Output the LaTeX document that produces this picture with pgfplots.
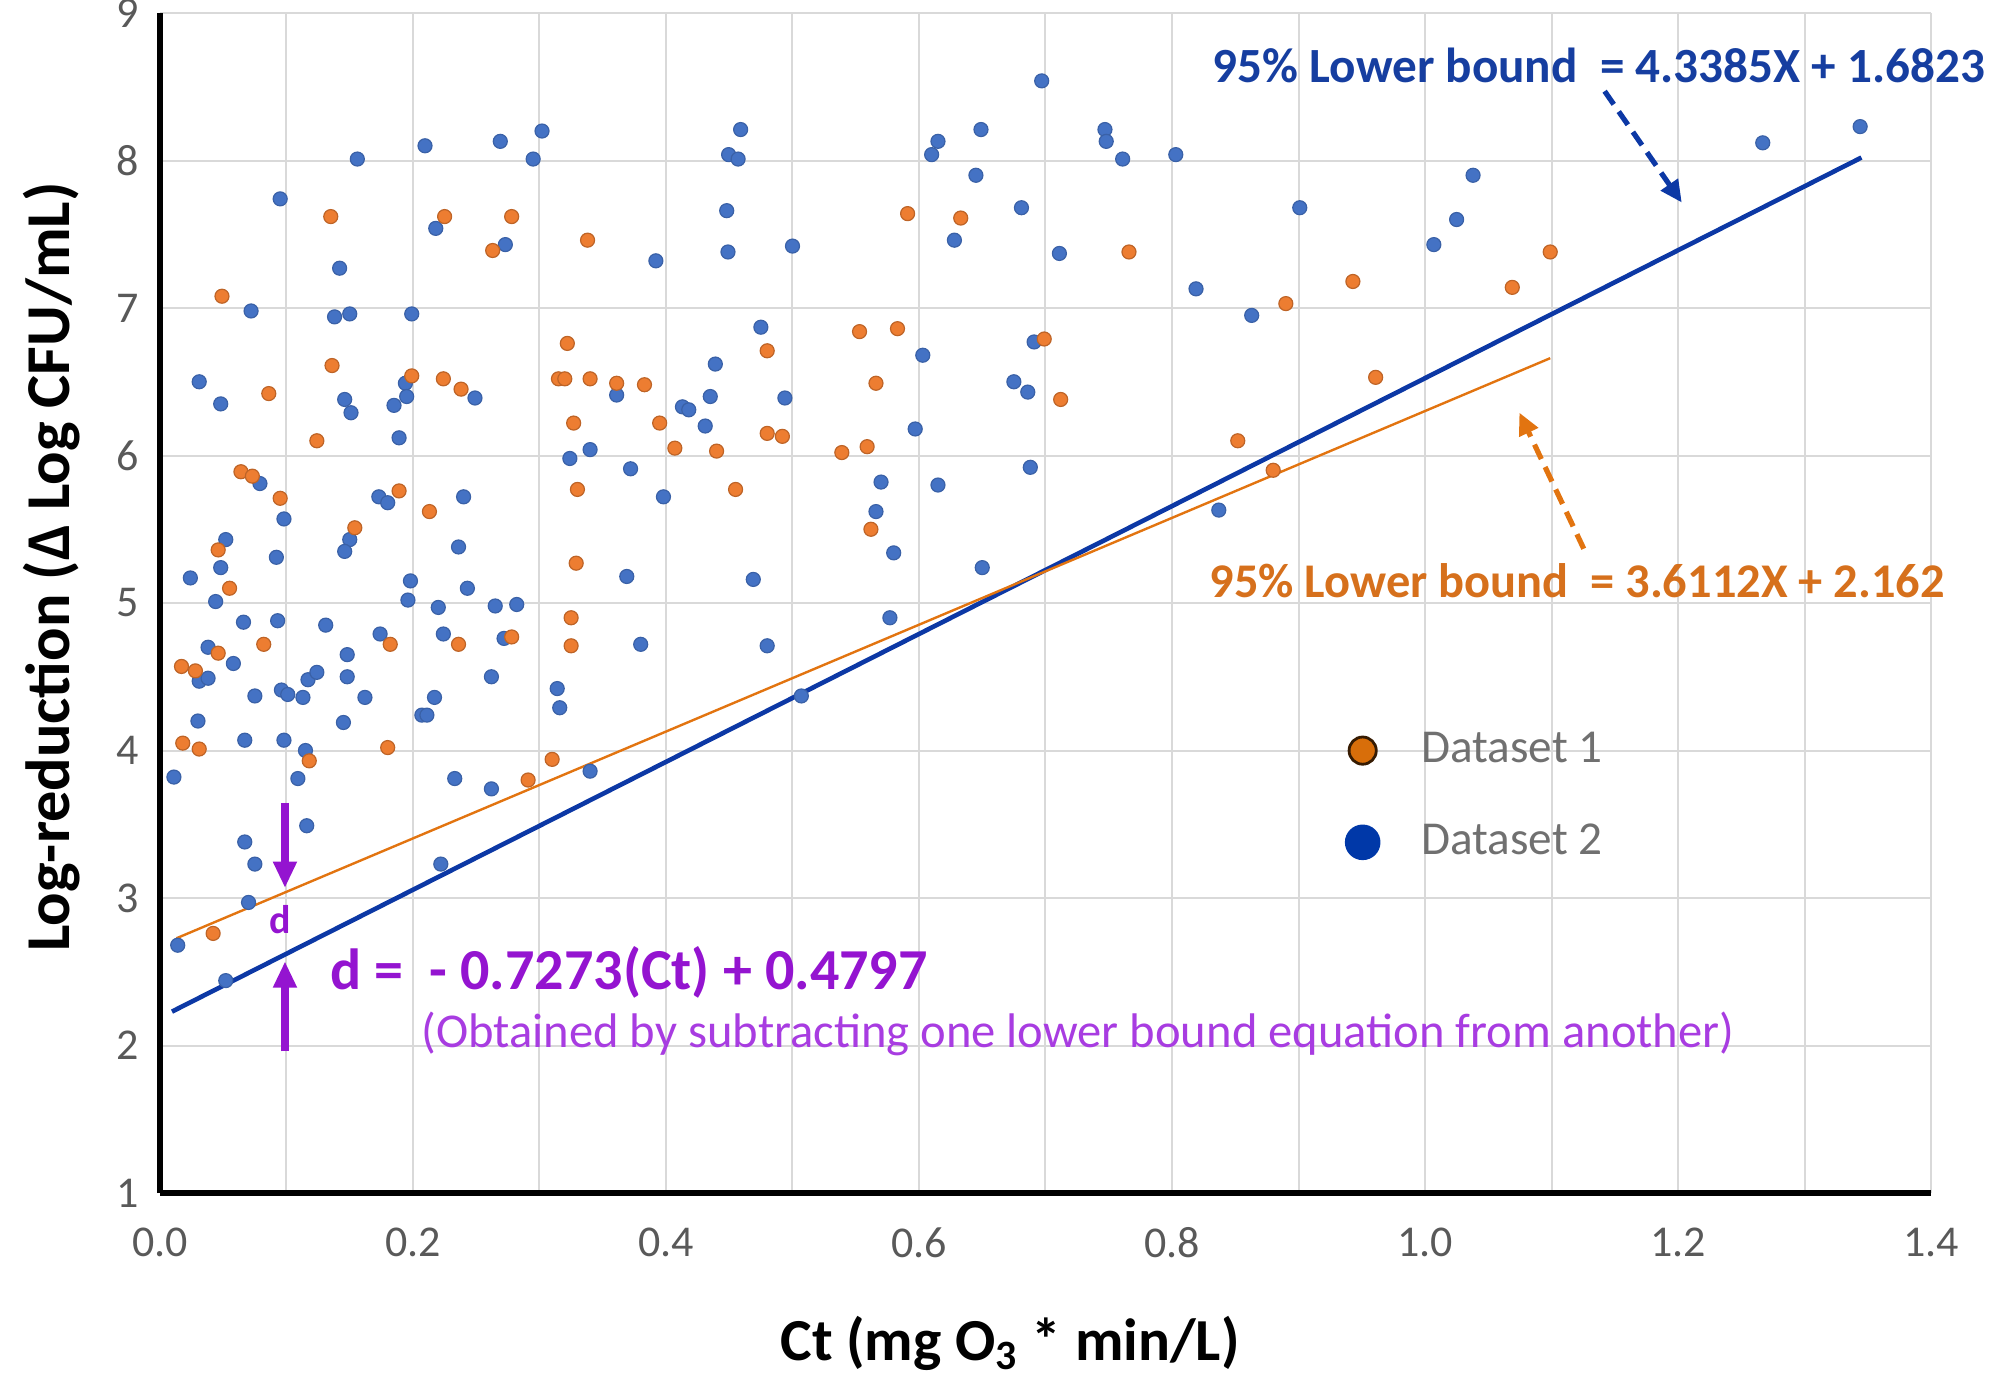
\documentclass[border=0pt]{standalone}
\usepackage{pgfplots}
\pgfplotsset{compat=1.18}
\usepackage{fontspec}
\setmainfont{Carlito}
\usetikzlibrary{arrows.meta}
\definecolor{ptblue}{RGB}{68,114,196}
\definecolor{ptorange}{RGB}{237,125,49}
\definecolor{lnblue}{RGB}{12,56,165}
\definecolor{lnorange}{RGB}{226,116,16}
\definecolor{txblue}{RGB}{22,62,160}
\definecolor{txorange}{RGB}{214,112,28}
\definecolor{purp}{RGB}{148,20,208}
\definecolor{purpl}{RGB}{168,60,225}
\definecolor{tickgray}{RGB}{89,89,89}
\definecolor{leggray}{RGB}{112,112,112}
\definecolor{gridgray}{RGB}{217,217,217}
\definecolor{legorange}{RGB}{216,110,10}
\definecolor{legblue}{RGB}{0,56,168}
\begin{document}
\begin{tikzpicture}
\useasboundingbox (-40pt,-48.25pt) rectangle (458.75pt,298.25pt);
\begin{axis}[
  at={(0,0)}, anchor=south west,
  scale only axis, width=442.75pt, height=295pt,
  xmin=0, xmax=1.4, ymin=1, ymax=9,
  enlargelimits=false, clip=false,
  axis lines=left, axis line style={-, line width=1.3pt, black},
  xtick={0,0.2,0.4,0.6,0.8,1.0,1.2,1.4},
  xticklabels={0.0,0.2,0.4,0.6,0.8,1.0,1.2,1.4},
  minor xtick={0.1,0.3,0.5,0.7,0.9,1.1,1.3},
  ytick={1,2,3,4,5,6,7,8,9},
  yticklabels={1,2,3,4,5,6,7,8,9},
  /pgf/number format/assume math mode=true,
  grid=both,
  major grid style={gridgray, line width=0.5pt},
  minor grid style={gridgray, line width=0.5pt},
  major tick length=0pt, minor tick length=0pt,
  xticklabel style={font=\fontsize{11}{13}\selectfont, text=tickgray, anchor=north, inner sep=0pt, yshift=-8.5pt},
  yticklabel style={font=\fontsize{11}{13}\selectfont, text=tickgray, anchor=east, inner sep=0pt, xshift=-5pt},
  xlabel={\fontsize{14.9}{17}\selectfont\bfseries Ct (mg O\textsubscript{3} * min/L)},
  xlabel style={at={(axis description cs:0.48,-0.142)}, anchor=base, inner sep=0pt},
  ylabel={\fontsize{15.6}{18}\selectfont\bfseries Log-reduction (Δ Log CFU/mL)},
  ylabel style={at={(axis description cs:-0.061,0.5305)}, anchor=center, inner sep=0pt},
  reverse legend,
  legend cell align=left,
  legend style={at={(axis description cs:0.6686,0.391)}, anchor=north west, draw=none, fill=none,
    inner sep=0pt, row sep=13.8pt, font=\fontsize{11.8}{14}\selectfont, text=leggray,
    nodes={inner sep=0pt}, /tikz/every odd column/.append style={column sep=10.2pt}},
]
% Dataset 2 (blue)
\addplot[only marks, mark=*, mark size=1.75pt, mark options={fill=ptblue, draw=ptblue!85!black, line width=0.3pt},
  legend image code/.code={\fill[legblue] (0,0) circle (4.25pt);}] coordinates {
(0.302,8.20) (0.269,8.13) (0.2095,8.10) (0.156,8.01) (0.295,8.01) (0.095,7.74) (0.218,7.54) (0.273,7.43)
(0.392,7.32) (0.142,7.27) (0.072,6.98) (0.138,6.94) (0.150,6.96) (0.199,6.96) (0.031,6.50) (0.048,6.35)
(0.146,6.38) (0.151,6.29) (0.185,6.34) (0.194,6.49) (0.195,6.40) (0.249,6.39) (0.189,6.12) (0.361,6.41)
(0.413,6.33) (0.418,6.31) (0.431,6.20) (0.324,5.98) (0.340,6.04) (0.372,5.91) (0.079,5.81) (0.098,5.57)
(0.398,5.72) (0.173,5.72) (0.180,5.68) (0.240,5.72) (0.052,5.43) (0.150,5.43) (0.146,5.35) (0.092,5.31)
(0.048,5.24) (0.236,5.38) (0.024,5.17) (0.198,5.15) (0.369,5.18) (0.243,5.10) (0.044,5.01) (0.196,5.02)
(0.220,4.97) (0.265,4.98) (0.282,4.99) (0.066,4.87) (0.093,4.88) (0.131,4.85) (0.174,4.79) (0.224,4.79)
(0.272,4.76) (0.380,4.72) (0.038,4.70) (0.058,4.59) (0.148,4.65) (0.148,4.50) (0.031,4.47) (0.038,4.49)
(0.117,4.48) (0.124,4.53) (0.262,4.50) (0.314,4.42)
(0.316,4.29) (0.075,4.37) (0.096,4.41) (0.101,4.38) (0.113,4.36) (0.162,4.36) (0.217,4.36) (0.207,4.24)
(0.211,4.24) (0.145,4.19) (0.030,4.20) (0.067,4.07) (0.098,4.07) (0.115,4.00) (0.011,3.82) (0.109,3.81)
(0.233,3.81) (0.262,3.74) (0.340,3.86) (0.116,3.49) (0.067,3.38) (0.075,3.23) (0.222,3.23) (0.070,2.97)
(0.014,2.68) (0.052,2.44)
(0.459,8.21) (0.4495,8.04) (0.457,8.01) (0.448,7.66) (0.449,7.38) (0.500,7.42) (0.475,6.87) (0.439,6.62)
(0.435,6.40) (0.494,6.39) (0.469,5.16) (0.480,4.71) (0.570,5.82) (0.566,5.62) (0.580,5.34) (0.577,4.90)
(0.597,6.18) (0.603,6.68) (0.610,8.04) (0.615,8.13) (0.649,8.21) (0.645,7.90) (0.628,7.46) (0.615,5.80)
(0.650,5.24) (0.681,7.68) (0.697,8.54) (0.711,7.37) (0.691,6.77) (0.675,6.50) (0.686,6.43) (0.688,5.92)
(0.747,8.21) (0.748,8.13) (0.761,8.01) (0.803,8.04) (0.819,7.13) (0.863,6.95) (0.901,7.68) (0.837,5.63)
(0.507,4.37)
(1.038,7.90) (1.025,7.60) (1.007,7.43) (1.267,8.12) (1.344,8.23)
};
\addlegendentry{Dataset 2}
% Dataset 1 (orange)
\addplot[only marks, mark=*, mark size=1.75pt, mark options={fill=ptorange, draw=ptorange!80!black, line width=0.3pt},
  legend image code/.code={\draw[fill=legorange, draw=black!75!legorange, line width=0.7pt] (0,0) circle (3.4pt);}] coordinates {
(0.135,7.62) (0.225,7.62) (0.278,7.62) (0.263,7.39) (0.338,7.46) (0.049,7.08) (0.136,6.61) (0.086,6.42)
(0.199,6.54) (0.224,6.52) (0.238,6.45) (0.322,6.76) (0.315,6.52) (0.320,6.52) (0.340,6.52) (0.361,6.49)
(0.383,6.48) (0.124,6.10) (0.327,6.22) (0.395,6.22) (0.407,6.05) (0.064,5.89) (0.073,5.86) (0.095,5.71)
(0.189,5.76) (0.330,5.77) (0.213,5.62) (0.154,5.51) (0.046,5.36) (0.055,5.10) (0.329,5.27) (0.325,4.90)
(0.082,4.72) (0.182,4.72) (0.236,4.72) (0.278,4.77) (0.325,4.71) (0.046,4.66) (0.017,4.57) (0.028,4.54)
(0.018,4.05) (0.031,4.01) (0.180,4.02) (0.118,3.93) (0.310,3.94) (0.291,3.80) (0.042,2.76)
(0.440,6.03) (0.455,5.77) (0.480,6.71) (0.480,6.15) (0.492,6.13) (0.539,6.02) (0.559,6.06) (0.553,6.84)
(0.583,6.86) (0.566,6.49) (0.562,5.50) (0.591,7.64) (0.633,7.61) (0.699,6.79) (0.712,6.38) (0.766,7.38)
(0.890,7.03) (0.852,6.10) (0.880,5.90)
(0.943,7.18) (1.069,7.14) (1.099,7.38) (0.961,6.53)
};
\addlegendentry{Dataset 1}
% lower-bound lines
\addplot[lnblue, line width=1.15pt, forget plot] coordinates {(0.0095,2.23) (1.345,8.02)};
\addplot[lnorange, line width=0.6pt, forget plot] coordinates {(0.013,2.727) (1.099,6.66)};
% annotations
\node[anchor=base west, inner sep=0pt, text=txblue, font=\fontsize{12.3}{14}\selectfont\bfseries]
  at (axis cs:0.8316,8.531) {95\% Lower bound~~= 4.3385X + 1.6823};
\node[anchor=base west, inner sep=0pt, text=txorange, font=\fontsize{12.1}{14}\selectfont\bfseries]
  at (axis cs:0.829,5.037) {95\% Lower bound~~= 3.6112X + 2.162};
\draw[lnblue, line width=1.3pt, dash pattern=on 4pt off 2.2pt, -{Triangle[length=5.5pt,width=5pt]}]
  (axis cs:1.142,8.47) -- (axis cs:1.203,7.715);
\draw[lnorange, line width=1.3pt, dash pattern=on 4pt off 2.2pt, -{Triangle[length=5.5pt,width=5pt]}]
  (axis cs:1.1255,5.368) -- (axis cs:1.0746,6.291);
\draw[purp, line width=2.2pt, -{Triangle[length=6.6pt,width=5.6pt]}] (axis cs:0.0988,3.645) -- (axis cs:0.0988,3.068);
\draw[purp, line width=2.2pt, -{Triangle[length=6.6pt,width=5.6pt]}] (axis cs:0.0988,1.961) -- (axis cs:0.0988,2.571);
\node[anchor=base, inner sep=0pt, text=purp, font=\fontsize{10}{12}\selectfont\bfseries] at (axis cs:0.0949,2.759) {d};
\node[anchor=base west, inner sep=0pt, text=purp, font=\fontsize{14.5}{16}\selectfont\bfseries]
  at (axis cs:0.134,2.379) {d =~~- 0.7273(Ct) + 0.4797};
\node[anchor=base west, inner sep=0pt, text=purpl, font=\fontsize{12.15}{14}\selectfont]
  at (axis cs:0.206,1.986) {(Obtained by subtracting one lower bound equation from another)};
\end{axis}
\end{tikzpicture}
\end{document}
